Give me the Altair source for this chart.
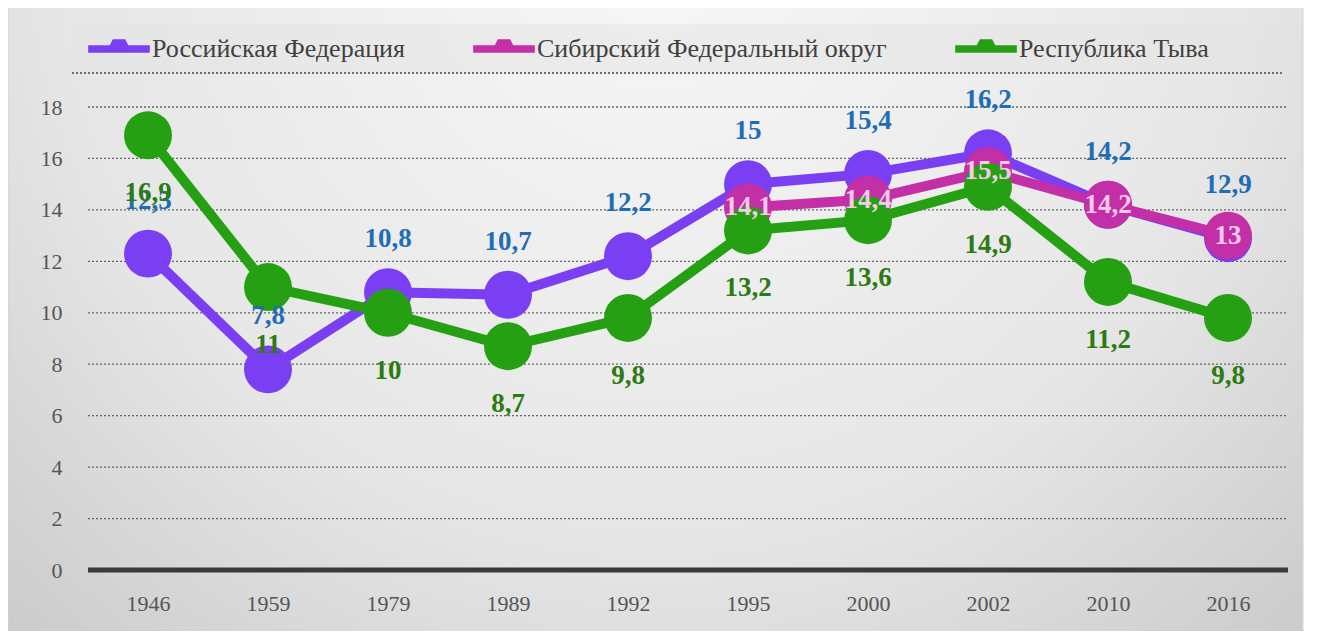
import altair as alt
import pandas as pd

years = ["1946", "1959", "1979", "1989", "1992", "1995", "2000", "2002", "2010", "2016"]
series_names = ["Российская Федерация", "Сибирский Федеральный округ", "Республика Тыва"]
rf_values = [12.3, 7.8, 10.8, 10.7, 12.2, 15, 15.4, 16.2, 14.2, 12.9]
sfo_values = [None, None, None, None, None, 14.1, 14.4, 15.5, 14.2, 13]
tyva_values = [16.9, 11, 10, 8.7, 9.8, 13.2, 13.6, 14.9, 11.2, 9.8]
y_ticks = [0, 2, 4, 6, 8, 10, 12, 14, 16, 18]
grid_values = [2, 4, 6, 8, 10, 12, 14, 16, 18]

rows = []
for name, vals in zip(series_names, [rf_values, sfo_values, tyva_values]):
    for yr, v in zip(years, vals):
        if v is None:
            continue
        rows.append({"year": yr, "series": name, "value": v,
                     "label": f"{v:g}".replace(".", ",")})
df = pd.DataFrame(rows)

colors = ["#7a3ff2", "#c32fa6", "#24a012"]
FONT = "Liberation Serif"
W, H = 1200, 463

x_enc = alt.X("year:N", sort=years, scale=alt.Scale(domain=years, paddingInner=0, paddingOuter=0),
              axis=alt.Axis(title=None, labelFont=FONT, labelFontSize=22, labelColor="#555555",
                            labelPadding=23, ticks=False, domain=False, grid=False, labelAngle=0,
                            zindex=1))
y_scale = alt.Scale(domain=[0, 18], nice=False)
y_enc = alt.Y("value:Q", scale=y_scale,
              axis=alt.Axis(title=None, values=y_ticks, labelFont=FONT, labelFontSize=22,
                            labelColor="#555555", labelPadding=26, ticks=False, domain=False,
                            grid=False, zindex=1))

bg_df = pd.DataFrame({"k": [0]})
background = alt.Chart(bg_df).mark_rect(
    fill=alt.Gradient(gradient="radial",
                      stops=[alt.GradientStop(color="#f8f8f8", offset=0),
                             alt.GradientStop(color="#e6e6e6", offset=0.55),
                             alt.GradientStop(color="#c0c0c0", offset=1)],
                      x1=0.5, y1=0.2, r1=0, x2=0.5, y2=0.2, r2=0.85),
    stroke="#d4d4d4", strokeWidth=1
).encode(x=alt.value(-80), x2=alt.value(1215), y=alt.value(-100), y2=alt.value(525))

legend_band = alt.Chart(bg_df).mark_rect(fill="#e4e4e4", opacity=0.55).encode(
    x=alt.value(-16), x2=alt.value(1194), y=alt.value(-83), y2=alt.value(-34))
legend_rule = alt.Chart(bg_df).mark_rule(color="#444444", strokeWidth=1.5, strokeDash=[2, 2]).encode(
    x=alt.value(-16), x2=alt.value(1194), y=alt.value(-34))

grid = alt.Chart(pd.DataFrame({"g": grid_values})).mark_rule(
    color="#666666", strokeWidth=1.3, strokeDash=[2, 2]).encode(
    y=alt.Y("g:Q", scale=y_scale), x=alt.value(0), x2=alt.value(W))
zero = alt.Chart(pd.DataFrame({"g": [0]})).mark_rule(color="#3a3a3a", strokeWidth=5).encode(
    y=alt.Y("g:Q", scale=y_scale), x=alt.value(0), x2=alt.value(W))

legend_symbol = ("M-1,-0.12 L-0.3,-0.12 L-0.2,-0.32 L0.2,-0.32 L0.3,-0.12 L1,-0.12 "
                 "L1,0.12 L-1,0.12 Z")
legend = alt.Legend(title=None, orient="none", direction="horizontal",
                    legendX=0, legendY=-89, labelFont=FONT, labelFontSize=26,
                    labelColor="#404040", symbolType=legend_symbol,
                    symbolSize=3800, symbolOpacity=1, symbolStrokeWidth=0,
                    labelOffset=2, columnPadding=68, labelLimit=600)

color_scale = alt.Scale(domain=series_names, range=colors)
color_enc = alt.Color("series:N", scale=color_scale, sort=series_names, legend=legend)
base = alt.Chart(df)
lines = base.mark_line(strokeWidth=10).encode(
    x=x_enc, y=y_enc, color=color_enc, detail="series:N")
points = base.mark_circle(size=2300, opacity=1).encode(
    x=x_enc, y=y_enc, color=color_enc)

def labels(name, color, dy):
    return base.transform_filter(alt.datum.series == name).mark_text(
        font=FONT, fontSize=27, fontWeight="bold", color=color, dy=dy).encode(
        x=x_enc, y=y_enc, text="label:N")

lbl_rf = labels(series_names[0], "#1f6db4", -53)
lbl_sfo = labels(series_names[1], "#f5cbe8", 0)
lbl_tyva = labels(series_names[2], "#2c7a12", 58)

chart = alt.layer(background, legend_band, legend_rule, grid, zero, lines, points,
                  lbl_rf, lbl_sfo, lbl_tyva).properties(
    width=W, height=H,
    padding={"left": 80, "top": 99, "right": 24, "bottom": 61},
    autosize=alt.AutoSizeParams(type="none"),
    background="white"
).configure_view(stroke=None).configure_legend(
    labelFont=FONT, labelFontSize=26, labelColor="#404040"
).configure(font=FONT)

chart.save("out.html", embed_options={"renderer": "svg", "actions": False})
